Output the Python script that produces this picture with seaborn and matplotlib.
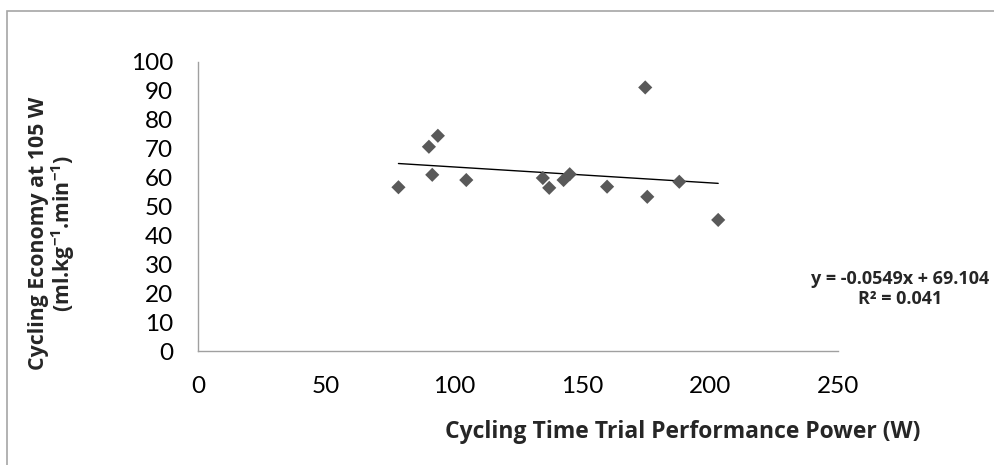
import matplotlib
matplotlib.use("Agg")
import matplotlib.pyplot as plt
import seaborn as sns
import numpy as np
import pandas as pd
from matplotlib.patches import Rectangle

# Per-rider data: time-trial power (W) vs cycling economy at 105 W
power_w = [78.3, 90.2, 91.5, 93.7, 104.8, 134.7, 137.2, 142.8, 145.2,
           159.8, 174.7, 175.5, 188.0, 203.2]
economy = [56.6, 70.6, 60.9, 74.4, 59.1, 59.8, 56.4, 59.1, 61.1,
           56.8, 91.1, 53.3, 58.5, 45.3]

# Linear trendline as reported
slope = -0.0549
intercept = 69.104
r_squared = 0.041

x_ticks = [0, 50, 100, 150, 200, 250]
y_ticks = [0, 10, 20, 30, 40, 50, 60, 70, 80, 90, 100]

df = pd.DataFrame({"power": power_w, "economy": economy})

sns.set_theme(style="white")
plt.rcParams["font.family"] = ["Lato", "DejaVu Sans"]
plt.rcParams["mathtext.fontset"] = "custom"
plt.rcParams["mathtext.bf"] = "Open Sans:bold"
plt.rcParams["mathtext.rm"] = "Open Sans:bold"
BOLD_FAMILY = ["Open Sans", "DejaVu Sans"]

fig = plt.figure(figsize=(9.95, 4.65), dpi=100)
ax = fig.add_axes([198 / 995, 1 - 351 / 465, 640 / 995, (351 - 61.7) / 465])

# Chart-area border
fig.patches.append(Rectangle((7 / 995, -0.05), 1.2, 1 - 10.5 / 465 + 0.05,
                             transform=fig.transFigure, fill=False,
                             edgecolor="#a6a6a6", linewidth=1.2))

sns.scatterplot(data=df, x="power", y="economy", ax=ax, marker="D",
                s=52, color="#595959", edgecolor="none", zorder=3)

xs = np.array([min(power_w), max(power_w)])
sns.lineplot(x=xs, y=slope * xs + intercept, ax=ax, color="black",
             linewidth=1.0, zorder=2)

ax.set_xlim(0, 250)
ax.set_ylim(0, 100)
ax.set_xticks(x_ticks)
ax.set_yticks(y_ticks)
ax.tick_params(axis="both", direction="out", length=6, width=1,
               color="#a0a0a0", labelsize=17.5, labelcolor="black")
ax.tick_params(axis="x", pad=12)
ax.tick_params(axis="y", pad=12)
for side in ["top", "right"]:
    ax.spines[side].set_visible(False)
for side in ["left", "bottom"]:
    ax.spines[side].set_color("#a0a0a0")
    ax.spines[side].set_linewidth(1.0)
ax.set_xlabel("")
ax.set_ylabel("")
ax.grid(False)

fig.text(0.053, 1 - 233 / 465,
         "Cycling Economy at 105 W\n(ml.kg$^{\\mathbf{-1}}$.min$^{\\mathbf{-1}}$)",
         rotation=90, ha="center", va="center", fontsize=15.3,
         fontweight="bold", family=BOLD_FAMILY, linespacing=1.0)
fig.text(683 / 995, 1 - 432 / 465, "Cycling Time Trial Performance Power (W)",
         ha="center", va="center", fontsize=16.5, fontweight="bold",
         family=BOLD_FAMILY)
fig.text(900 / 995, 1 - 289 / 465,
         f"y = {slope}x + {intercept}\nR\u00b2 = {r_squared}",
         ha="center", va="center", fontsize=13, fontweight="bold",
         family=BOLD_FAMILY, linespacing=1.15)

fig.savefig("out.png", dpi=100)
